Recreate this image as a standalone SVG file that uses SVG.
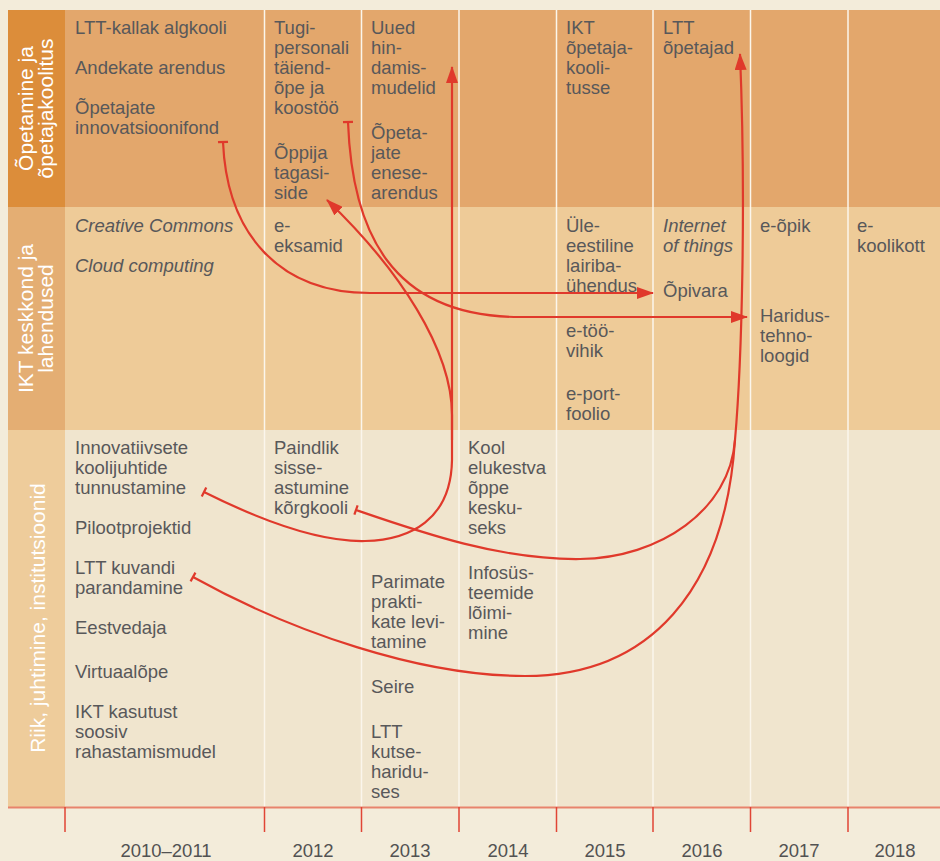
<svg xmlns="http://www.w3.org/2000/svg" width="940" height="861" viewBox="0 0 940 861">
<style>
.t{font-family:"Liberation Sans",Arial,sans-serif;font-size:18.5px;fill:#58585a}
.i{font-style:italic}
.lab{font-family:"Liberation Sans",Arial,sans-serif;font-size:21px;fill:#ffffff;text-anchor:middle}
.yr{font-family:"Liberation Sans",Arial,sans-serif;font-size:18.5px;fill:#525252;text-anchor:middle}
.sep{stroke:#fbf6ec;stroke-width:1.5}
.tick{stroke:#e04535;stroke-width:1.5}
.c{fill:none;stroke:#e0392b;stroke-width:2.2}
</style>
<defs>
<marker id="arr" markerUnits="userSpaceOnUse" markerWidth="17" markerHeight="12" viewBox="0 0 17 12" refX="16" refY="6" orient="auto">
<path d="M0,0 L17,6 L0,12 z" fill="#e0392b"/>
</marker>
<marker id="tee" markerUnits="userSpaceOnUse" markerWidth="4" markerHeight="12" viewBox="-2 -6 4 12" refX="0" refY="0" orient="auto">
<rect x="-1.1" y="-5" width="2.2" height="10" fill="#e0392b"/>
</marker>
</defs>
<rect x="0" y="0" width="940" height="861" fill="#f3ecda"/>
<g id="bands">
<rect x="8" y="10" width="932" height="197" fill="#e3a76c"/>
<rect x="8" y="10" width="57" height="197" fill="#dc8d3a"/>
<rect x="8" y="207" width="932" height="223" fill="#eecb98"/>
<rect x="8" y="207" width="57" height="223" fill="#e4ae73"/>
<rect x="8" y="430" width="932" height="377" fill="#f0e5ce"/>
<rect x="8" y="430" width="57" height="377" fill="#eecc9b"/>
</g>
<g id="separators">
<line class="sep" x1="264.5" y1="10" x2="264.5" y2="807"/>
<line class="sep" x1="361.5" y1="10" x2="361.5" y2="807"/>
<line class="sep" x1="459" y1="10" x2="459" y2="807"/>
<line class="sep" x1="556.5" y1="10" x2="556.5" y2="807"/>
<line class="sep" x1="653" y1="10" x2="653" y2="807"/>
<line class="sep" x1="750.5" y1="10" x2="750.5" y2="807"/>
<line class="sep" x1="848" y1="10" x2="848" y2="807"/>
</g>
<g id="row-labels">
<text class="lab" transform="translate(33,108.5) rotate(-90)">Õpetamine ja</text>
<text class="lab" transform="translate(53,108.5) rotate(-90)">õpetajakoolitus</text>
<text class="lab" transform="translate(33,318.5) rotate(-90)">IKT keskkond ja</text>
<text class="lab" transform="translate(53,318.5) rotate(-90)">lahendused</text>
<text class="lab" transform="translate(45,618) rotate(-90)">Riik, juhtimine, institutsioonid</text>
</g>
<g id="n-ltt-kallak"><text class="t" x="75" y="34">LTT-kallak algkooli</text></g>
<g id="n-andekate"><text class="t" x="75" y="74">Andekate arendus</text></g>
<g id="n-innovatsioonifond"><text class="t" x="75" y="114">Õpetajate</text><text class="t" x="75" y="134">innovatsioonifond</text></g>
<g id="n-tugipersonal"><text class="t"><tspan x="274" y="34">Tugi-</tspan><tspan x="274" y="54">personali</tspan><tspan x="274" y="74">täiend-</tspan><tspan x="274" y="94">õpe ja</tspan><tspan x="274" y="114">koostöö</tspan></text></g>
<g id="n-tagasiside"><text class="t"><tspan x="274" y="159">Õppija</tspan><tspan x="274" y="179">tagasi-</tspan><tspan x="274" y="199">side</tspan></text></g>
<g id="n-hindamismudelid"><text class="t"><tspan x="371" y="34">Uued</tspan><tspan x="371" y="54">hin-</tspan><tspan x="371" y="74">damis-</tspan><tspan x="371" y="94">mudelid</tspan></text></g>
<g id="n-eneseareng"><text class="t"><tspan x="371" y="139">Õpeta-</tspan><tspan x="371" y="159">jate</tspan><tspan x="371" y="179">enese-</tspan><tspan x="371" y="199">arendus</tspan></text></g>
<g id="n-ikt-koolitus"><text class="t"><tspan x="566" y="34">IKT</tspan><tspan x="566" y="54">õpetaja-</tspan><tspan x="566" y="74">kooli-</tspan><tspan x="566" y="94">tusse</tspan></text></g>
<g id="n-ltt-opetajad"><text class="t"><tspan x="663" y="34">LTT</tspan><tspan x="663" y="54">õpetajad</tspan></text></g>
<g id="n-creative"><text class="t i" x="75" y="232">Creative Commons</text></g>
<g id="n-cloud"><text class="t i" x="75" y="272">Cloud computing</text></g>
<g id="n-eeksamid"><text class="t"><tspan x="274" y="232">e-</tspan><tspan x="274" y="252">eksamid</tspan></text></g>
<g id="n-lairiba"><text class="t"><tspan x="566" y="232">Üle-</tspan><tspan x="566" y="252">eestiline</tspan><tspan x="566" y="272">lairiba-</tspan><tspan x="566" y="292">ühendus</tspan></text></g>
<g id="n-etoovihik"><text class="t"><tspan x="566" y="337">e-töö-</tspan><tspan x="566" y="357">vihik</tspan></text></g>
<g id="n-eportfoolio"><text class="t"><tspan x="566" y="400">e-port-</tspan><tspan x="566" y="420">foolio</tspan></text></g>
<g id="n-iot"><text class="t i"><tspan x="663" y="232">Internet</tspan><tspan x="663" y="252">of things</tspan></text></g>
<g id="n-opivara"><text class="t" x="663" y="297">Õpivara</text></g>
<g id="n-eopik"><text class="t" x="760" y="232">e-õpik</text></g>
<g id="n-haridustehnoloogid"><text class="t"><tspan x="760" y="322">Haridus-</tspan><tspan x="760" y="342">tehno-</tspan><tspan x="760" y="362">loogid</tspan></text></g>
<g id="n-ekoolikott"><text class="t"><tspan x="857" y="232">e-</tspan><tspan x="857" y="252">koolikott</tspan></text></g>
<g id="n-koolijuhid"><text class="t"><tspan x="75" y="454">Innovatiivsete</tspan><tspan x="75" y="474">koolijuhtide</tspan><tspan x="75" y="494">tunnustamine</tspan></text></g>
<g id="n-pilootprojektid"><text class="t" x="75" y="534">Pilootprojektid</text></g>
<g id="n-kuvand"><text class="t"><tspan x="75" y="574">LTT kuvandi</tspan><tspan x="75" y="594">parandamine</tspan></text></g>
<g id="n-eestvedaja"><text class="t" x="75" y="634">Eestvedaja</text></g>
<g id="n-virtuaalope"><text class="t" x="75" y="678">Virtuaalõpe</text></g>
<g id="n-rahastamismudel"><text class="t"><tspan x="75" y="718">IKT kasutust</tspan><tspan x="75" y="738">soosiv</tspan><tspan x="75" y="758">rahastamismudel</tspan></text></g>
<g id="n-sisseastumine"><text class="t"><tspan x="274" y="454">Paindlik</tspan><tspan x="274" y="474">sisse-</tspan><tspan x="274" y="494">astumine</tspan><tspan x="274" y="514">kõrgkooli</tspan></text></g>
<g id="n-parimad"><text class="t"><tspan x="371" y="588">Parimate</tspan><tspan x="371" y="608">prakti-</tspan><tspan x="371" y="628">kate levi-</tspan><tspan x="371" y="648">tamine</tspan></text></g>
<g id="n-seire"><text class="t" x="371" y="693">Seire</text></g>
<g id="n-kutseharidus"><text class="t"><tspan x="371" y="738">LTT</tspan><tspan x="371" y="758">kutse-</tspan><tspan x="371" y="778">haridu-</tspan><tspan x="371" y="798">ses</tspan></text></g>
<g id="n-elukestev"><text class="t"><tspan x="468" y="454">Kool</tspan><tspan x="468" y="474">elukestva</tspan><tspan x="468" y="494">õppe</tspan><tspan x="468" y="514">kesku-</tspan><tspan x="468" y="534">seks</tspan></text></g>
<g id="n-infosysteemid"><text class="t"><tspan x="468" y="579">Infosüs-</tspan><tspan x="468" y="599">teemide</tspan><tspan x="468" y="619">lõimi-</tspan><tspan x="468" y="639">mine</tspan></text></g>
<g id="connectors">
<path class="c" marker-start="url(#tee)" marker-end="url(#arr)" d="M223,142 C227,235 280,293 370,293 L653,293"/>
<path class="c" marker-start="url(#tee)" marker-end="url(#arr)" d="M348,122 C352,230 390,317 520,317 L747,317"/>
<path class="c" marker-start="url(#tee)" marker-end="url(#arr)" d="M204,492 C260,520 320,542 365,541 C410,540 451,520 452,460 L452,67"/>
<path class="c" marker-end="url(#arr)" d="M452,440 L452,415 C452,350 400,270 327,200"/>
<path class="c" marker-start="url(#tee)" marker-end="url(#arr)" d="M356,510 C420,532 500,560 580,559 C660,558 730,510 735,440 C742,360 746,200 740,54"/>
<path class="c" marker-start="url(#tee)" d="M193,577 C292,632 420,676 525,676 C650,676 725,590 735,440"/>
</g>
<g id="axis">
<line x1="8" y1="807.5" x2="940" y2="807.5" stroke="#e8836c" stroke-width="2"/>
<line class="tick" x1="65" y1="807" x2="65" y2="832"/>
<line class="tick" x1="264.5" y1="807" x2="264.5" y2="832"/>
<line class="tick" x1="361.5" y1="807" x2="361.5" y2="832"/>
<line class="tick" x1="459" y1="807" x2="459" y2="832"/>
<line class="tick" x1="556.5" y1="807" x2="556.5" y2="832"/>
<line class="tick" x1="653" y1="807" x2="653" y2="832"/>
<line class="tick" x1="750.5" y1="807" x2="750.5" y2="832"/>
<line class="tick" x1="848" y1="807" x2="848" y2="832"/>
<text class="yr" x="166" y="857">2010–2011</text>
<text class="yr" x="313" y="857">2012</text>
<text class="yr" x="410" y="857">2013</text>
<text class="yr" x="508" y="857">2014</text>
<text class="yr" x="605" y="857">2015</text>
<text class="yr" x="702" y="857">2016</text>
<text class="yr" x="799" y="857">2017</text>
<text class="yr" x="895" y="857">2018</text>
</g>
</svg>
